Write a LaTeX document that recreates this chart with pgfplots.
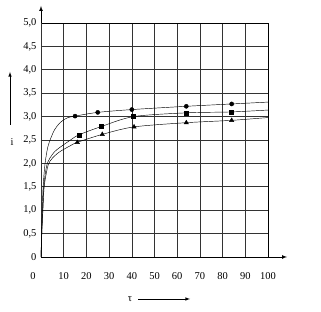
\documentclass[border=0pt]{standalone}
\usepackage{pgfplots}
\pgfplotsset{compat=1.18}
\usepackage{fontspec}
\setmainfont{Liberation Serif}
\begin{document}
\begin{tikzpicture}[font=\fontsize{10.5}{12}\selectfont]
\begin{axis}[
  name=ax,
  scale only axis,
  width=227bp, height=234bp,
  xmin=0, xmax=100, ymin=0, ymax=5,
  xtick={10,20,...,100},
  xticklabels={10,20,30,40,50,60,70,80,90,100},
  extra x ticks={0},
  extra x tick labels={0},
  extra x tick style={xticklabel style={xshift=-8bp}},
  ytick={0,0.5,...,5},
  yticklabels={0,{0,5},{1,0},{1,5},{2,0},{2,5},{3,0},{3,5},{4,0},{4,5},{5,0}},
  /pgf/number format/assume math mode=true,
  xticklabel style={yshift=-12bp},
  yticklabel style={xshift=-1bp},
  major tick length=0pt,
  grid=major,
  major grid style={black!80, line width=0.6pt},
  axis line style={black, line width=0.7pt},
  clip=false,
]
% curves
\addplot[black, line width=0.45pt, smooth, tension=0.5] coordinates {
(0,0) (0.3,0.6) (0.6,1.1) (1.0,1.55) (1.8,2.0) (3,2.35) (4.4,2.55) (6,2.72) (8,2.85) (10,2.93) (12,2.98) (15,3.01) (25,3.09) (40,3.15) (64,3.22) (84,3.27) (100,3.31)};
\addplot[black, line width=0.45pt, smooth, tension=0.5] coordinates {
(0,0) (0.4,0.6) (0.8,1.1) (1.3,1.55) (2.5,1.95) (4,2.12) (6,2.25) (8,2.33) (10,2.4) (13,2.5) (16.7,2.61) (26.7,2.79) (40.8,3.0) (64,3.08) (84,3.1) (100,3.14)};
\addplot[black, line width=0.45pt, smooth, tension=0.5] coordinates {
(0,0) (0.4,0.55) (0.9,1.05) (1.4,1.5) (2.8,1.9) (4,2.05) (6,2.16) (8,2.24) (10,2.3) (13,2.38) (16,2.45) (27,2.62) (41,2.78) (64,2.87) (84,2.92) (100,2.98)};
% markers
\addplot[only marks, mark=*, mark size=2.1pt, black] coordinates {
(15,3.01) (25,3.09) (40,3.15) (64,3.22) (84,3.27)};
\addplot[only marks, mark=square*, mark size=2.0pt, black] coordinates {
(16.7,2.61) (26.7,2.79) (40.8,3.0) (64,3.08) (84,3.1)};
\addplot[only marks, mark=triangle*, mark size=2.5pt, black] coordinates {
(16,2.45) (27,2.62) (41,2.78) (64,2.87) (84,2.92)};
% axis arrows
\draw[-latex, black, line width=0.7pt] (rel axis cs:0,1) -- ++(0,17bp);
\draw[-latex, black, line width=0.7pt] (rel axis cs:1,0) -- ++(19bp,0);
\end{axis}
% labels with arrows
\node at ([shift={(-29bp,115bp)}]ax.south west) {i};
\draw[-latex, black, line width=0.6pt] ([shift={(-31bp,132bp)}]ax.south west) -- ([shift={(-31bp,185bp)}]ax.south west);
\node at ([shift={(89bp,-42bp)}]ax.south west) {τ};
\draw[-latex, black, line width=0.6pt] ([shift={(97bp,-42bp)}]ax.south west) -- ([shift={(149bp,-42bp)}]ax.south west);
\useasboundingbox ([shift={(-41bp,-55bp)}]ax.south west) rectangle ([shift={(53bp,23bp)}]ax.north east);
\end{tikzpicture}
\end{document}
